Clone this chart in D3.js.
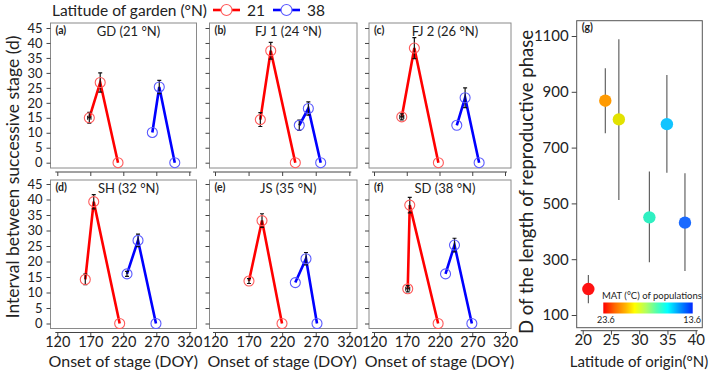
<!DOCTYPE html>
<html><head><meta charset="utf-8">
<script src="https://cdn.jsdelivr.net/npm/d3@7"></script>
<style>body{margin:0;background:#fff}svg{display:block}text{font-family:Lato,"Open Sans",sans-serif;fill:#222}</style>
</head><body><svg id="c" width="709" height="372"></svg>
<script>
// ---------- data ----------
const panelLabels = ["(a)","(b)","(c)","(d)","(e)","(f)"];
const panelTitles = ["GD (21 °N)","FJ 1 (24 °N)","FJ 2 (26 °N)","SH (32 °N)","JS (35 °N)","SD (38 °N)"];
const gardenLegend = ["21","38"];
const redOnset = [[168.5,185,212],[187.5,203,239.6],[162.4,181.6,218.3],[162.4,175.2,214.5],[170.6,190,219.8],[171.5,174.6,217.9]];
const redInterval = [[15,26.8,0],[14.4,37.4,0],[15.3,38.3,0],[14.2,39.3,0],[13.7,33.2,0],[11.2,38.2,0]];
const redIntervalErr = [[1.8,3.2,0],[2.3,2.8,0],[1,3.5,0],[1.7,2.3,0],[0.8,2.2,0],[1,2.5,0]];
const redOnsetErr = [[2.5,0,0],[0,0,0],[3,0,0],[0,0,0],[0,0,0],[3,0,0]];
const blueOnset = [[264,274.5,298],[245.5,259,277.4],[246.4,259.1,280.5],[225.6,242.3,269.5],[239.6,255.5,271.9],[229.2,242.9,269.4]];
const blueInterval = [[10.1,25.3,0],[12.5,18.1,0],[12.5,21.7,0],[16,26.8,0],[13.2,20.9,0],[16,25.3,0]];
const blueIntervalErr = [[0,2.2,0],[1.7,2.2,0],[0,3.3,0],[0.8,2,0],[0,2,0],[0,2.2,0]];
const xTicks = [120,170,220,270,320];
const yTicks = [0,5,10,15,20,25,30,35,40,45];

const originLat = [21,24,26.4,31.8,34.9,38.1];
const phaseD = [193,868,801,450,784,431];
const phaseLo = [142,751,512,289,610,258];
const phaseHi = [243,984,1088,614,960,608];
const popColors = ["#ff1212","#ff9a00","#e2e200","#2ff0c2","#12c4ff","#1a6aff"];
const gTicksY = [100,300,500,700,900,1100];
const gTicksX = [20,25,30,35,40];
const matLabels = ["23.6","13.6"];

// ---------- layout ----------
const svg = d3.select("#c");
const cols = [{x0:50.5,x1:196.5,r0:57.3,r1:189.3},{x0:209.5,x1:357,r0:215,r1:349.3},{x0:369,x1:511,r0:374,r1:505}];
const rows = [{y0:23,y1:168,z:162.7,t:28},{y0:180,y1:328.5,z:323.5,t:184}];
const RED="#ff0000", BLUE="#0000ff";

panelTitles.forEach((title,i)=>{
  const c = cols[i%3], r = rows[Math.floor(i/3)];
  const x = d3.scaleLinear().domain([120,320]).range([c.r0,c.r1]);
  const y = d3.scaleLinear().domain([0,45]).range([r.z,r.t]);
  const g = svg.append("g");
  g.append("rect").attr("x",c.x0).attr("y",r.y0).attr("width",c.x1-c.x0).attr("height",r.y1-r.y0)
    .attr("fill","none").attr("stroke","#8a8a8a").attr("stroke-width",1);
  const ya = g.append("g").attr("transform",`translate(${c.x0},0)`)
    .call(d3.axisLeft(y).tickValues(yTicks).tickSize(4).tickFormat(i%3===0?d3.format("d"):""));
  ya.select(".domain").remove();
  ya.selectAll("line").attr("stroke","#444");
  ya.selectAll("text").attr("font-size",13).attr("fill","#222").attr("dx",-1);
  const xa = g.append("g").attr("transform",`translate(0,${r.y1+4})`)
    .call(d3.axisBottom(x).tickValues(xTicks).tickSize(4).tickSizeOuter(0).tickFormat(i>=3?d3.format("d"):""));
  xa.select(".domain").attr("stroke","#444").attr("d",`M${c.r0-2},0H${c.r1+2}`);
  xa.selectAll("line").attr("stroke","#444");
  xa.selectAll("text").attr("font-size",14.5).attr("fill","#222").attr("dy","0.5em");
  g.append("text").attr("x",c.x0+5).attr("y",r.y0+11).attr("font-size",10.5).attr("font-weight","bold").text(panelLabels[i]);
  g.append("text").attr("x",(c.x0+c.x1)/2+5).attr("y",r.y0+12.5).attr("text-anchor","middle").attr("font-size",13).text(title);

  const series = [
    {col:RED, light:"#ff5a5a", on:redOnset[i], iv:redInterval[i], e:redIntervalErr[i], xe:redOnsetErr[i]},
    {col:BLUE, light:"#5a5aff", on:blueOnset[i], iv:blueInterval[i], e:blueIntervalErr[i], xe:[0,0,0]}
  ];
  series.forEach(s=>{
    const pts = s.on.map((d,k)=>({x:d,y:s.iv[k],e:s.e[k],xe:s.xe[k]}));
    g.append("path").datum(pts).attr("fill","none").attr("stroke",s.col).attr("stroke-width",2.6)
      .attr("d",d3.line().x(d=>x(d.x)).y(d=>y(d.y)));
    pts.forEach(p=>{
      if(p.e>0){
        const a=y(p.y+p.e), b=y(p.y-p.e), cx=x(p.x);
        g.append("path").attr("d",`M${cx},${a}V${b}M${cx-2},${a}H${cx+2}M${cx-2},${b}H${cx+2}`)
          .attr("stroke","#111").attr("stroke-width",1.2).attr("fill","none");
      }
      if(p.xe>0){
        const a=x(p.x-p.xe), b=x(p.x+p.xe), cy=y(p.y);
        g.append("path").attr("d",`M${a},${cy}H${b}M${a},${cy-2}V${cy+2}M${b},${cy-2}V${cy+2}`)
          .attr("stroke","#111").attr("stroke-width",1.1).attr("fill","none");
      }
    });
    g.selectAll(null).data(pts).join("circle").attr("cx",d=>x(d.x)).attr("cy",d=>y(d.y)).attr("r",5)
      .attr("fill","none").attr("stroke",s.light).attr("stroke-width",1.1);
  });
});

svg.append("text").attr("transform","translate(19,177) rotate(-90)").attr("text-anchor","middle")
  .attr("font-size",17.5).text("Interval between successive stage (d)");
[0,1,2].forEach(k=>{
  const c=cols[k];
  svg.append("text").attr("x",(c.r0+c.r1)/2).attr("y",367).attr("text-anchor","middle").attr("font-size",16).text("Onset of stage (DOY)");
});
const lg = svg.append("g");
lg.append("text").attr("x",52).attr("y",15.5).attr("font-size",15.5).text("Latitude of garden (°N)");
[[RED,"#ff5a5a",213,gardenLegend[0]],[BLUE,"#5a5aff",273,gardenLegend[1]]].forEach(([c,l,x0,t])=>{
  lg.append("line").attr("x1",x0).attr("x2",x0+27).attr("y1",10).attr("y2",10).attr("stroke",c).attr("stroke-width",2.6);
  lg.append("circle").attr("cx",x0+13.5).attr("cy",10).attr("r",5.5).attr("fill","#fff").attr("stroke",l).attr("stroke-width",1.1);
  lg.append("text").attr("x",x0+34).attr("y",15.5).attr("font-size",15.5).text(t);
});

// ---------- panel (g) ----------
const G={x0:576.7,x1:702.3,y0:20.7,y1:327.7};
const gx = d3.scaleLinear().domain([20,40]).range([582.7,695.7]);
const gy = d3.scaleLinear().domain([100,1100]).range([315,36]);
const gg = svg.append("g");
gg.append("rect").attr("x",G.x0).attr("y",G.y0).attr("width",G.x1-G.x0).attr("height",G.y1-G.y0)
  .attr("fill","none").attr("stroke","#555").attr("stroke-width",1);
const gya = gg.append("g").attr("transform",`translate(${G.x0},0)`).call(d3.axisLeft(gy).tickValues(gTicksY).tickSize(5).tickFormat(d3.format("d")));
gya.select(".domain").remove(); gya.selectAll("line").attr("stroke","#444");
gya.selectAll("text").attr("font-size",15).attr("fill","#222");
const gxa = gg.append("g").attr("transform",`translate(0,${G.y1+3})`).call(d3.axisBottom(gx).tickValues(gTicksX).tickSize(4).tickSizeOuter(0));
gxa.select(".domain").attr("stroke","#444").attr("d",`M${gx(20)-2},0H${gx(40)+2}`);
gxa.selectAll("line").attr("stroke","#444");
gxa.selectAll("text").attr("font-size",15).attr("fill","#222").attr("dy","0.5em");
gg.append("text").attr("x",G.x0+5).attr("y",G.y0+10).attr("font-size",10.5).attr("font-weight","bold").text("(g)");
originLat.forEach((lat,k)=>{
  gg.append("line").attr("x1",gx(lat)).attr("x2",gx(lat)).attr("y1",gy(phaseLo[k])).attr("y2",gy(phaseHi[k]))
    .attr("stroke","#555").attr("stroke-width",1.1);
});
gg.selectAll(null).data(originLat).join("circle").attr("cx",d=>gx(d)).attr("cy",(d,k)=>gy(phaseD[k])).attr("r",6.2)
  .attr("fill",(d,k)=>popColors[k]);
const defs = svg.append("defs");
const grad = defs.append("linearGradient").attr("id","mat");
[[0,"#ff0000"],[0.13,"#ff6a00"],[0.25,"#ffb400"],[0.35,"#ffff00"],[0.48,"#b0ff60"],[0.6,"#50ffb0"],[0.72,"#00ffff"],[0.85,"#0096ff"],[1,"#0028ff"]]
  .forEach(([o,c])=>grad.append("stop").attr("offset",o).attr("stop-color",c));
gg.append("rect").attr("x",603.3).attr("y",302.5).attr("width",89.4).attr("height",11).attr("fill","url(#mat)");
gg.append("text").attr("x",602).attr("y",299).attr("font-size",9.5).text("MAT (°C) of populations");
gg.append("text").attr("x",597).attr("y",323).attr("font-size",9).text(matLabels[0]);
gg.append("text").attr("x",701).attr("y",323).attr("text-anchor","end").attr("font-size",9).text(matLabels[1]);
svg.append("text").attr("transform","translate(533,182) rotate(-90)").attr("text-anchor","middle")
  .attr("font-size",18.5).text("D of the length of reproductive phase");
svg.append("text").attr("x",639).attr("y",367).attr("text-anchor","middle").attr("font-size",15).text("Latitude of origin(°N)");
</script></body></html>
